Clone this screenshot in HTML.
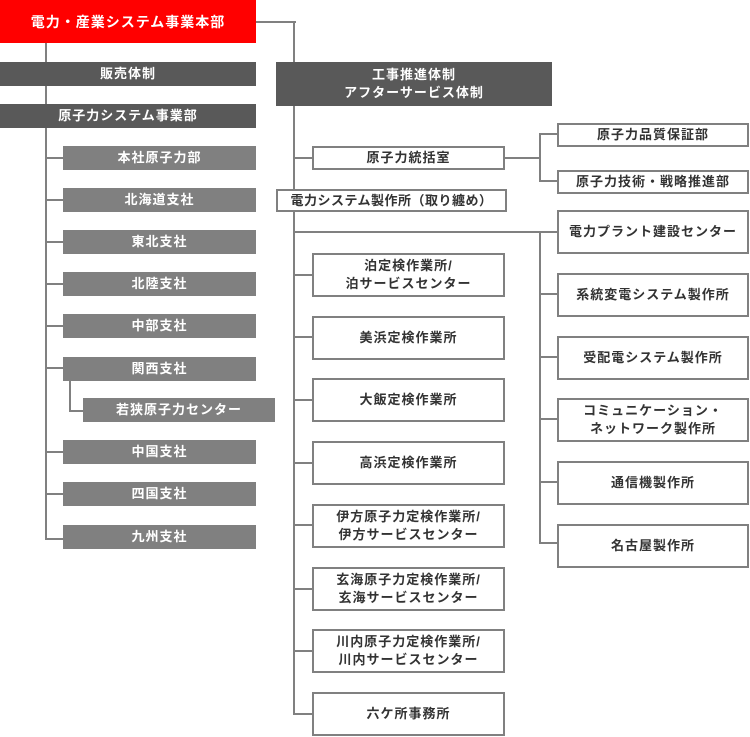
<!DOCTYPE html>
<html><head><meta charset="utf-8"><style>
body{margin:0;width:750px;height:737px;background:#fff;position:relative;overflow:hidden;font-family:"Liberation Sans","Noto Sans CJK JP",sans-serif;}
div{position:absolute;box-sizing:border-box;}
.b{display:flex;align-items:center;justify-content:center;text-align:center;font-size:13px;font-weight:bold;line-height:18px;letter-spacing:1px;}
.d{background:#595959;color:#fff;}
.g{background:#808080;color:#fff;}
.w{background:#fff;border:2px solid #808080;color:#333;}
.h{height:2px;background:#808080;}
.v{width:2px;background:#808080;}
</style></head><body>
<div class="v" style="left:45px;top:43px;height:497px"></div>
<div class="h" style="left:256px;top:21px;width:40px"></div>
<div class="v" style="left:293px;top:21px;height:694px"></div>
<div class="h" style="left:45px;top:157px;width:20px"></div>
<div class="h" style="left:45px;top:199px;width:20px"></div>
<div class="h" style="left:45px;top:241px;width:20px"></div>
<div class="h" style="left:45px;top:283px;width:20px"></div>
<div class="h" style="left:45px;top:325px;width:20px"></div>
<div class="h" style="left:45px;top:367px;width:20px"></div>
<div class="v" style="left:69px;top:380px;height:32px"></div>
<div class="h" style="left:69px;top:410px;width:16px"></div>
<div class="h" style="left:45px;top:451px;width:20px"></div>
<div class="h" style="left:45px;top:493px;width:20px"></div>
<div class="h" style="left:45px;top:538px;width:20px"></div>

<div class="h" style="left:293px;top:157px;width:20px"></div>
<div class="h" style="left:504px;top:157px;width:37px"></div>
<div class="v" style="left:539px;top:133px;height:49px"></div>
<div class="h" style="left:539px;top:133px;width:20px"></div>
<div class="h" style="left:539px;top:180px;width:20px"></div>
<div class="h" style="left:293px;top:231px;width:266px"></div>
<div class="v" style="left:539px;top:231px;height:313px"></div>
<div class="h" style="left:539px;top:293px;width:20px"></div>
<div class="h" style="left:539px;top:356px;width:20px"></div>
<div class="h" style="left:539px;top:418px;width:20px"></div>
<div class="h" style="left:539px;top:481px;width:20px"></div>
<div class="h" style="left:539px;top:542px;width:20px"></div>
<div class="h" style="left:293px;top:274px;width:20px"></div>
<div class="h" style="left:293px;top:336px;width:20px"></div>
<div class="h" style="left:293px;top:399px;width:20px"></div>
<div class="h" style="left:293px;top:462px;width:20px"></div>
<div class="h" style="left:293px;top:524px;width:20px"></div>
<div class="h" style="left:293px;top:588px;width:20px"></div>
<div class="h" style="left:293px;top:650px;width:20px"></div>
<div class="h" style="left:293px;top:713px;width:20px"></div>

<div class="b" style="left:0;top:0;width:256px;height:43px;background:#f00;color:#fff;font-size:14px">電力・産業システム事業本部</div>
<div class="b d" style="left:0;top:62px;width:256px;height:24px">販売体制</div>
<div class="b d" style="left:0;top:104px;width:256px;height:24px">原子力システム事業部</div>
<div class="b g" style="left:63px;top:146px;width:193px;height:24px">本社原子力部</div>
<div class="b g" style="left:63px;top:188px;width:193px;height:24px">北海道支社</div>
<div class="b g" style="left:63px;top:230px;width:193px;height:24px">東北支社</div>
<div class="b g" style="left:63px;top:272px;width:193px;height:24px">北陸支社</div>
<div class="b g" style="left:63px;top:314px;width:193px;height:24px">中部支社</div>
<div class="b g" style="left:63px;top:357px;width:193px;height:24px">関西支社</div>
<div class="b g" style="left:83px;top:398px;width:192px;height:24px">若狭原子力センター</div>
<div class="b g" style="left:63px;top:440px;width:193px;height:24px">中国支社</div>
<div class="b g" style="left:63px;top:482px;width:193px;height:24px">四国支社</div>
<div class="b g" style="left:63px;top:525px;width:193px;height:24px">九州支社</div>

<div class="b d" style="left:276px;top:62px;width:276px;height:44px">工事推進体制<br>アフターサービス体制</div>
<div class="b w" style="left:312px;top:146px;width:193px;height:24px">原子力統括室</div>
<div class="b w" style="left:276px;top:189px;width:231px;height:23px;letter-spacing:0.5px">電力システム製作所（取り纏め）</div>
<div class="b w" style="left:557px;top:123px;width:192px;height:24px">原子力品質保証部</div>
<div class="b w" style="left:557px;top:170px;width:192px;height:24px">原子力技術・戦略推進部</div>

<div class="b w" style="left:557px;top:210px;width:192px;height:44px">電力プラント建設センター</div>
<div class="b w" style="left:557px;top:273px;width:192px;height:44px">系統変電システム製作所</div>
<div class="b w" style="left:557px;top:336px;width:192px;height:44px">受配電システム製作所</div>
<div class="b w" style="left:557px;top:398px;width:192px;height:44px">コミュニケーション・<br>ネットワーク製作所</div>
<div class="b w" style="left:557px;top:461px;width:192px;height:44px">通信機製作所</div>
<div class="b w" style="left:557px;top:524px;width:192px;height:44px">名古屋製作所</div>

<div class="b w" style="left:312px;top:253px;width:193px;height:44px">泊定検作業所/<br>泊サービスセンター</div>
<div class="b w" style="left:312px;top:316px;width:193px;height:44px">美浜定検作業所</div>
<div class="b w" style="left:312px;top:378px;width:193px;height:44px">大飯定検作業所</div>
<div class="b w" style="left:312px;top:441px;width:193px;height:44px">高浜定検作業所</div>
<div class="b w" style="left:312px;top:504px;width:193px;height:44px">伊方原子力定検作業所/<br>伊方サービスセンター</div>
<div class="b w" style="left:312px;top:567px;width:193px;height:44px">玄海原子力定検作業所/<br>玄海サービスセンター</div>
<div class="b w" style="left:312px;top:629px;width:193px;height:44px">川内原子力定検作業所/<br>川内サービスセンター</div>
<div class="b w" style="left:312px;top:692px;width:193px;height:44px">六ケ所事務所</div>
</body></html>
